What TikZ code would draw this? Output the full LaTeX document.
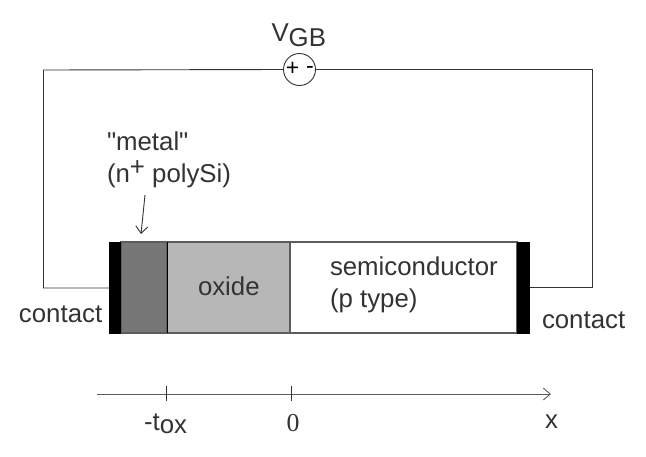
\documentclass[tikz,border=0pt]{standalone}
\usepackage{fontspec}
\setmainfont{Liberation Sans}
\newfontfamily\plainquote{Liberation Sans}
\newfontfamily\serifnum{Liberation Serif}
\usetikzlibrary{arrows.meta}
\definecolor{inkc}{HTML}{333333}
\definecolor{metalc}{HTML}{777777}
\definecolor{oxidec}{HTML}{B7B7B7}
\tikzset{
  x=1pt,y=-1pt,
  wire/.style={draw=inkc,line width=0.9pt},
  region/.style={draw=inkc!80,line width=1.1pt},
  lbl/.style={inner sep=0pt,outer sep=0pt,text=inkc,font=\fontsize{25.8}{28}\selectfont,anchor=base west,align=left},
  openarrow/.style={-{Straight Barb[length=7pt,width=12pt,line width=0.9pt]}},
}
\begin{document}
\begin{tikzpicture}
\useasboundingbox (0,0) rectangle (646,456);
\fill[white] (0,0) rectangle (646,456);
% device
\path[region,fill=metalc] (121,242) rectangle (167,333);
\path[region,fill=oxidec] (167,242) rectangle (290,333);
\path[region,fill=white] (290,242) rectangle (517,333);
\fill[black] (109,241.5) rectangle (121,334);
\fill[black] (517,241.5) rectangle (530,334);
\draw[black,line width=1pt] (167,242) -- (167,333);
\coordinate (lc) at (109,288);
\coordinate (rc) at (530,287);
\coordinate (ltop) at (43.5,70);
\coordinate (rtop) at (592,69.5);
\node[circle,draw=inkc,line width=0.9pt,minimum size=32pt,inner sep=0pt] (src) at (299.5,69.5) {};
\draw[wire] (lc) -| (ltop) -- (src.west);
\draw[wire] (rc) -| (rtop) -- (src.east);
\node[inner sep=0pt,text=black,font=\fontsize{23}{23}\selectfont] (plus) at (292.5,68.5) {+};
\node[inner sep=0pt,text=black,font=\fontsize{23}{23}\selectfont] (minus) at (310,69.5) {-};
% labels
\node[lbl] (vgb) at (271.5,41) {V\raisebox{-5pt}{GB}};
\node[lbl] (metal) at (107,150) {\plainquote"metal"};
\node[lbl] (poly) at (107,182) {(n\raisebox{7pt}{+} polySi)};
\coordinate (arrowstart) at (145,195);
\coordinate (arrowend) at (141,234);
\draw[wire,openarrow] (arrowstart) -- (arrowend);
\node[lbl] (ox) at (198,295) {oxide};
\node[lbl] (semi) at (330,275) {semiconductor};
\node[lbl] (ptype) at (330,307) {(p type)};
\node[lbl] (cl) at (19,322) {contact};
\node[lbl] (cr) at (542,328) {contact};
% axis
\coordinate (a0) at (97,394);
\coordinate (a1) at (551,394);
\draw[draw=inkc!80,line width=1pt,openarrow] (a0) -- (a1);
\coordinate (t1a) at (166.5,386);
\coordinate (t1b) at (166.5,401);
\coordinate (t2a) at (291,386);
\coordinate (t2b) at (291,401);
\draw[wire] (t1a) -- (t1b);
\draw[wire] (t2a) -- (t2b);
\node[lbl] (tox) at (144,430) {-t\raisebox{-3pt}{ox}};
\node[lbl,font=\serifnum\fontsize{25.8}{28}\selectfont] (zero) at (286.5,431) {0};
\node[lbl] (x) at (545,428) {x};
\end{tikzpicture}
\end{document}
